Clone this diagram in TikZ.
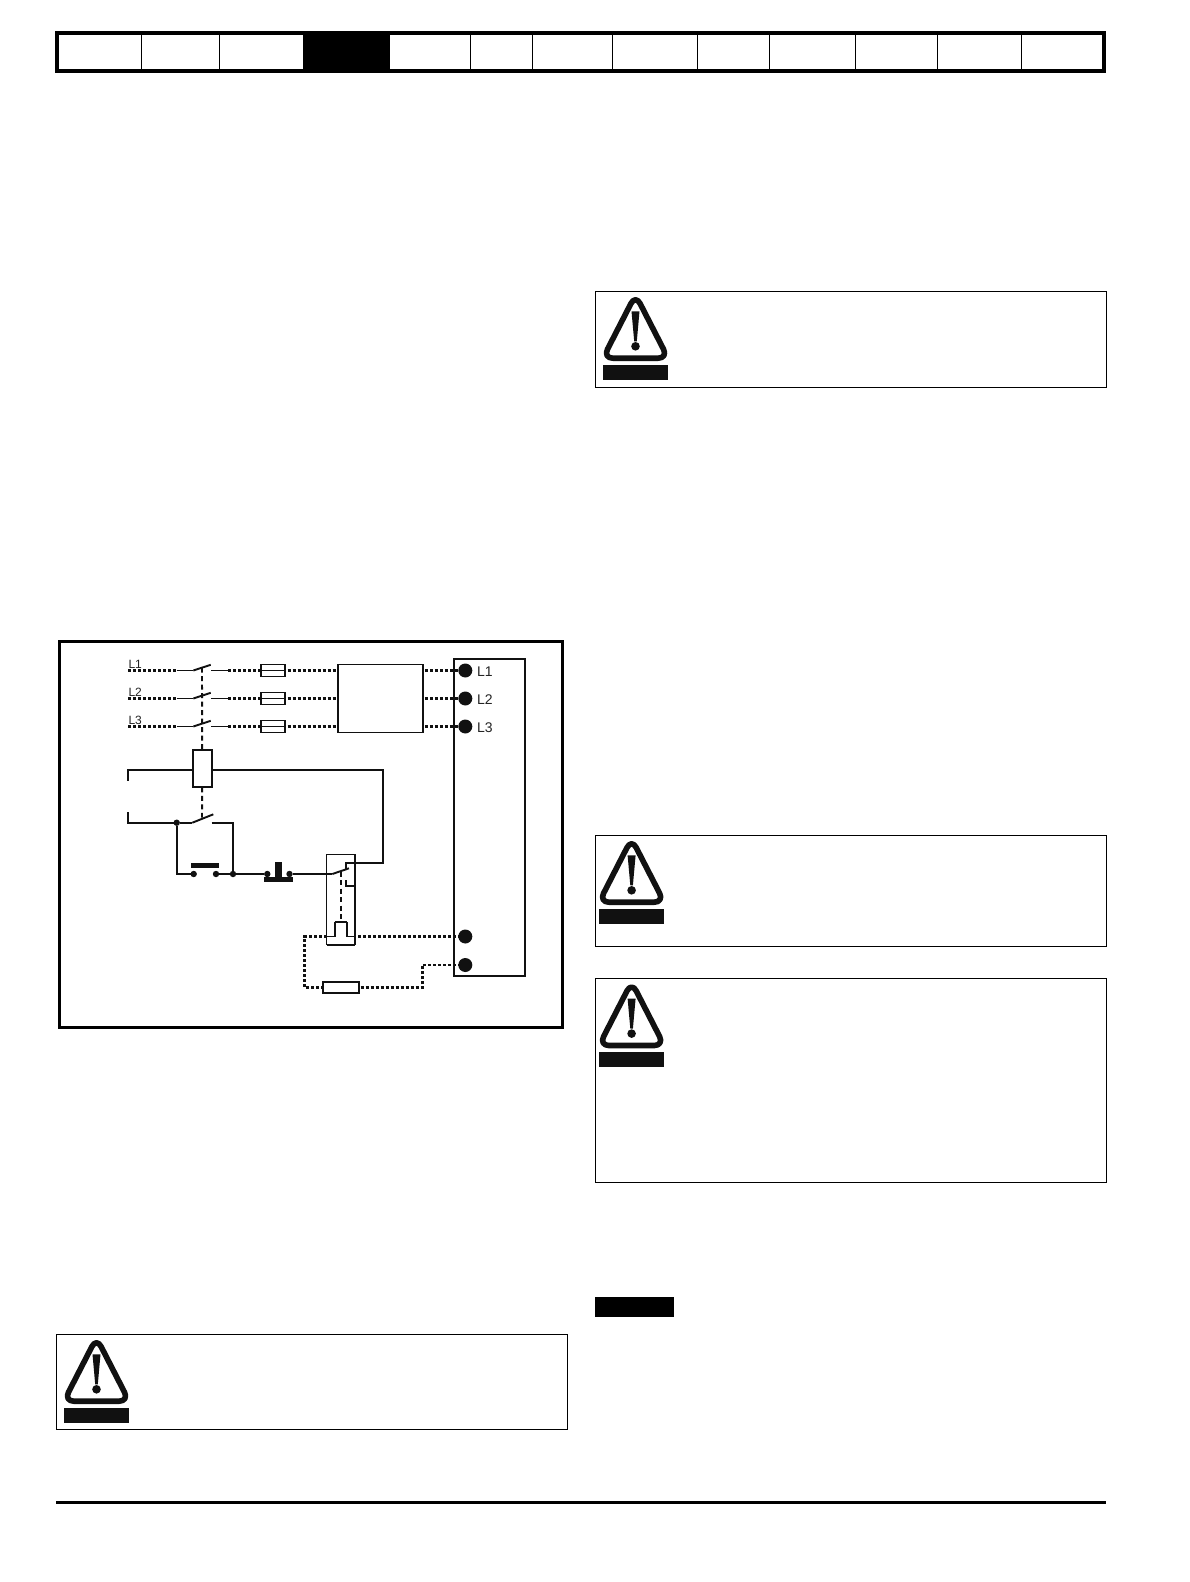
\documentclass[tikz,border=0pt]{standalone}
\usepackage{fontspec}
\setmainfont{Liberation Sans}
\definecolor{ink}{HTML}{111111}
\tikzset{
  wire/.style={line width=1.9pt,draw=ink},
  thinwire/.style={line width=1.1pt,draw=ink},
  dotw/.style={line width=2.5pt,draw=ink,dash pattern=on 3pt off 2pt},
  dotthin/.style={line width=2.2pt,draw=ink,dash pattern=on 3pt off 2pt},
  mech/.style={line width=1.9pt,draw=ink,dash pattern=on 5pt off 3.5pt},
  blade/.style={line width=1.9pt,draw=ink},
  boxn/.style={draw=ink,fill=white,rectangle,inner sep=0pt,outer sep=0pt,line width=1.5pt},
  fuse/.style={boxn,line width=1.8pt,minimum width=23.4pt,minimum height=12pt},
  term/.style={circle,fill=ink,inner sep=0pt,outer sep=0pt,minimum size=14pt},
  jn/.style={circle,fill=ink,inner sep=0pt,outer sep=0pt,minimum size=6.4pt},
  frameb/.style={draw=black,line width=1.1pt},
  lab/.style={inner sep=0pt,outer sep=0pt,anchor=base west,text=ink!92!white},
  warn/.pic={
    \draw[ink,line width=5.6pt,line join=round,rounded corners=10pt]
      (0,-2.4) -- (32.6,61.2) -- (-32.6,61.2) -- cycle;
    \fill[ink] (-4,14.3) -- (4,14.3) -- (1.3,44.3) -- (-1.3,44.3) -- cycle;
    \fill[ink] (0,49.3) circle (4.3pt);
    \fill[ink] (-32.5,68) rectangle (32.5,83);
  }
}
\begin{document}
\begin{tikzpicture}[x=1pt,y=-1pt]
\useasboundingbox (0,0) rectangle (1190,1582);
\fill[white] (0,0) rectangle (1190,1582);
% top tab bar
\fill[black] (303.3,33) rectangle (390,70.7);
\draw[black,line width=4pt] (57,33) rectangle (1103.7,70.7);
\foreach \x in {141.3,219.3,470.3,532.3,612.3,697.3,769.3,855.3,937.3,1021.3}
  \draw[black,line width=1pt] (\x,33) -- (\x,70.7);
% footer
\draw[black,line width=3pt] (56,1502.7) -- (1106,1502.7);
% note tag
\fill[black] (595,1297) rectangle (674,1317);
% warning frames
\draw[frameb] (595.3,291.4) rectangle (1106.7,387.3);
\draw[frameb] (595.3,835.4) rectangle (1106.7,946.3);
\draw[frameb] (595.3,978.3) rectangle (1106.7,1182.3);
\draw[frameb] (56.3,1334.3) rectangle (567.7,1429.3);
\pic at (635.5,297) {warn};
\pic at (631.6,841) {warn};
\pic at (631.6,984.3) {warn};
\pic at (96.5,1340) {warn};
% diagram frame
\draw[black,line width=3pt] (59.5,641.4) rectangle (562.5,1027);
% main boxes
\node[boxn,minimum width=85pt,minimum height=68pt] (filter) at (380.3,698.3) {};
\node[boxn,line width=2.2pt,minimum width=71.6pt,minimum height=317pt] (drive) at (489.5,817.5) {};
% terminals
\node[term] (tL1) at (465.3,670.5) {};
\node[term] (tL2) at (465.3,698.5) {};
\node[term] (tL3) at (465.3,726.5) {};
\node[term] (tA) at (465.3,936.5) {};
\node[term] (tB) at (465.3,965) {};
\node[lab,font=\fontsize{14}{14}\selectfont] at (477,676) {L1};
\node[lab,font=\fontsize{14}{14}\selectfont] at (477,704.4) {L2};
\node[lab,font=\fontsize{14}{14}\selectfont] at (477,732.8) {L3};
\node[lab,font=\fontsize{12}{12}\selectfont] at (128.5,668) {L1};
\node[lab,font=\fontsize{12}{12}\selectfont] at (128.5,696) {L2};
\node[lab,font=\fontsize{12}{12}\selectfont] at (128.5,724.5) {L3};
% three phases
\foreach \n/\y/\w in {1/670.5/thinwire,2/698.5/wire,3/726.5/wire}{
  \coordinate (in\n) at (128.3,\y);
  \coordinate (a\n) at (176.7,\y);
  \coordinate (b\n) at (193.3,\y);
  \coordinate (c\n) at (210.7,\y-5.7);
  \coordinate (d\n) at (211,\y);
  \coordinate (e\n) at (228.3,\y);
  \node[fuse] (f\n) at (273,\y) {};
  \draw[thinwire] (f\n.west) -- (f\n.east);
  \draw[dotw] (in\n) -- (a\n);
  \draw[\w] (a\n) -- (b\n);
  \draw[blade] (b\n) -- (c\n);
  \draw[\w] (d\n) -- (e\n);
  \draw[dotw] (e\n) -- (f\n.west);
  \draw[dotw] (f\n.east) ++(3,0) -- (filter.west |- f\n);
  \draw[dotw] (filter.east |- f\n) ++(2,0) -- (tL\n.west |- f\n);
}
% coil
\node[boxn,line width=1.9pt,minimum width=19pt,minimum height=37.3pt] (coil) at (202.2,768.7) {};
\coordinate (m1) at (202,667.7);
\coordinate (m2) at (202,817.7);
\draw[mech] (m1) -- (coil.north);
\draw[mech] (coil.south) -- (m2);
% coil circuit
\coordinate (s1) at (128,780.7);
\coordinate (s2) at (128,770);
\draw[wire] (s1) -- (s2) -- (coil.west |- s2);
\coordinate (r1) at (383.3,770);
\coordinate (r2) at (383.3,862.7);
\coordinate (r3) at (346,862.7);
\coordinate (r4) at (346,869.5);
\draw[wire] (coil.east |- r1) -- (r1) -- (r2) -- (r3) -- (r4);
% hold circuit
\coordinate (h0) at (128,812);
\coordinate (h1) at (128,822.7);
\node[jn] (j1) at (176.7,822.7) {};
\coordinate (h2) at (192.3,822.7);
\coordinate (h3) at (213.3,814.3);
\coordinate (h4) at (211.7,822.7);
\coordinate (h5) at (233,822.7);
\node[jn] (j2) at (233,874) {};
\node[jn] (p1) at (193.7,874) {};
\node[jn] (p2) at (216,874) {};
\node[jn] (q1) at (267.3,874) {};
\node[jn] (q2) at (289.5,874) {};
\coordinate (h6) at (176.7,874);
\draw[wire] (h0) -- (h1) -- (j1) -- (h2);
\draw[blade] (h2) -- (h3);
\draw[wire] (h4) -- (h5) -- (j2);
\draw[wire] (j1) -- (h6) -- (p1);
\draw[wire] (p2) -- (j2) -- (q1);
\fill[ink] (191,862.5) rectangle (219,868);
\fill[ink] (264,877) rectangle (293,881.7);
\fill[ink] (274.7,862) rectangle (282.3,878);
% overload relay
\node[boxn,fill=none,line width=1.1pt,minimum width=28.3pt,minimum height=90.4pt] (ol) at (340.8,899.5) {};
\coordinate (o1) at (332.3,874);
\coordinate (o2) at (349,868.3);
\draw[wire] (q2) -- (o1);
\draw[blade] (o1) -- (o2);
\draw[wire] (346,880) -- (346,885.7) -- (ol.east |- 346,885.7);
\coordinate (o3) at (340.7,871.7);
\coordinate (o4) at (340.7,919.3);
\draw[mech] (o3) -- (o4);
\coordinate (b0) at (326.7,936.5);
\coordinate (b1) at (334.7,936.5);
\coordinate (b2) at (334.7,922);
\coordinate (b3) at (346.7,922);
\coordinate (b4) at (346.7,936.5);
\coordinate (b5) at (355,936.5);
\draw[thinwire] (b0) -- (b1);
\draw[thinwire] (b4) -- (b5);
\draw[line width=2.4pt,draw=ink] (b1) -- (b2);
\draw[line width=2.4pt,draw=ink] (b3) -- (b4);
\draw[thinwire] (b2) -- (b3);
\draw[wire] (ol.south west) -- (ol.south east);
% thermistor loop
\node[boxn,line width=1.8pt,minimum width=35.4pt,minimum height=11.5pt] (res) at (341,987.5) {};
\coordinate (t1) at (304.5,936.5);
\coordinate (t2) at (304.5,987.5);
\coordinate (t3) at (422.5,987.5);
\coordinate (t4) at (422.5,965);
\draw[dotw] (b5) ++(3,0) -- (tA.west);
\draw[dotthin] (b0) -- (t1) -- (t2) -- (res.west);
\draw[dotthin] (res.east) ++(2,0) -- (t3) -- (t4) -- (tB.west);
\end{tikzpicture}
\end{document}
